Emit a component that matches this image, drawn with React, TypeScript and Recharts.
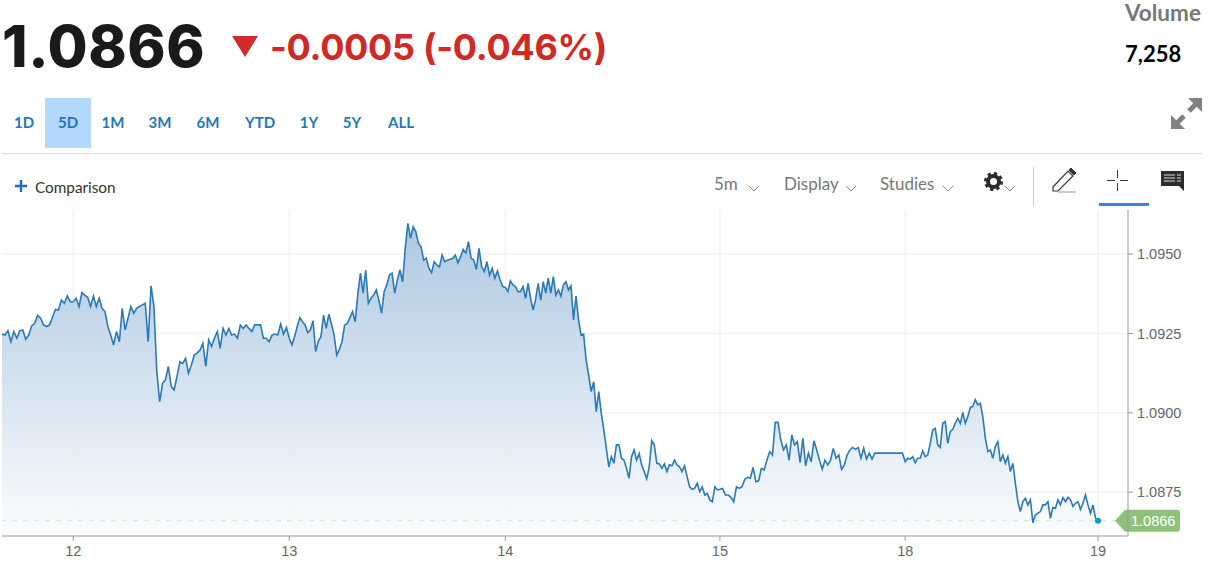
import React from 'react';
import { AreaChart, Area, XAxis, YAxis, CartesianGrid, ReferenceLine, ReferenceDot } from 'recharts';

// 5m bars, x axis counts bars from the left edge of the plot
const dayStarts = [0, 95, 383, 671, 957, 1204];
const lastBar = 1461;
const lastPrice = 1.0866;
const tickBars = [95, 383, 671, 957, 1204, 1461];
const tickDays = ['12', '13', '14', '15', '18', '19'];
const priceTicks = [1.0875, 1.09, 1.0925, 1.095];

const pricesDay11 = [
  1.09248, 1.09245, 1.09259, 1.09224, 1.09256, 1.09235, 1.09259, 1.09261, 1.09232, 1.09245, 1.09274, 1.09282,
  1.09307, 1.09298, 1.09277, 1.09272, 1.09277, 1.09301, 1.09326, 1.09324, 1.09355, 1.09345, 1.09368, 1.0935,
];
const pricesDay12 = [
  1.0935, 1.09361, 1.09335, 1.09379, 1.09371, 1.09364, 1.09335, 1.09368, 1.09335, 1.09361, 1.09329, 1.09319,
  1.09272, 1.09245, 1.09214, 1.09256, 1.09224, 1.09329, 1.09261, 1.09298, 1.09335, 1.09314, 1.09329, 1.09335,
  1.0934, 1.09345, 1.09224, 1.094, 1.09335, 1.0913, 1.09035, 1.09093, 1.09104, 1.09146, 1.09083,
  1.09072, 1.09114, 1.09161, 1.09156, 1.09172, 1.09125, 1.09151, 1.09182, 1.09188, 1.09198, 1.09219, 1.09146,
  1.0923, 1.09209, 1.09235, 1.09256, 1.09203, 1.09266, 1.09245, 1.09266, 1.09245, 1.09248, 1.09235, 1.09277,
  1.09266, 1.09277, 1.09266, 1.09256, 1.09277, 1.09277, 1.09277, 1.09235, 1.09235, 1.09224, 1.09245, 1.09248,
  1.09245, 1.0928, 1.09248, 1.09269,
];
const pricesDay13 = [
  1.09235, 1.09214, 1.0924, 1.09272, 1.093, 1.09287, 1.09277, 1.09253, 1.09261, 1.0929, 1.09193, 1.09225, 1.0924, 1.09308,
  1.09266, 1.09311, 1.0928, 1.09245, 1.09182, 1.092, 1.09224, 1.09277, 1.09282, 1.093, 1.09319, 1.09287, 1.09374, 1.0944, 1.09377,
  1.0945, 1.09345, 1.09361, 1.09371, 1.09387, 1.09355, 1.09314, 1.09382, 1.09403, 1.09434, 1.0944, 1.09377,
  1.09419, 1.0945, 1.09413, 1.09518, 1.09597, 1.0955, 1.09586, 1.09571, 1.09534, 1.09524, 1.09481, 1.09487,
  1.09455, 1.09442, 1.09476, 1.09466, 1.0946, 1.09497, 1.09476, 1.09481, 1.09484, 1.09487, 1.09497, 1.09473,
  1.09492, 1.09515, 1.09503, 1.09539, 1.09487, 1.09481, 1.09452, 1.09518, 1.0946, 1.09445, 1.09476, 1.09434,
  1.09455, 1.09424, 1.09447, 1.09419, 1.09398,
];
const pricesDay14 = [
  1.09395, 1.09382, 1.09416, 1.09403, 1.09398, 1.09382, 1.09382, 1.09398, 1.09361, 1.09408, 1.09361, 1.09324,
  1.09358, 1.09408, 1.09355, 1.09413, 1.09377, 1.09424, 1.09377, 1.09429, 1.09371, 1.09387, 1.09368, 1.09403,
  1.09413, 1.09387, 1.094, 1.09293, 1.09368, 1.09293, 1.09245, 1.09248, 1.09166, 1.09119, 1.09067, 1.09098,
  1.09004, 1.09067, 1.08999, 1.08946, 1.08888, 1.0883, 1.08862, 1.08841, 1.08899, 1.08899, 1.08857, 1.08851,
  1.08825, 1.08794, 1.08862, 1.08883, 1.08851, 1.08872, 1.08836, 1.08815, 1.08792, 1.0883, 1.08912, 1.08899,
  1.08841, 1.08839, 1.08825, 1.08839, 1.08815, 1.08836, 1.08833, 1.08851, 1.08836, 1.0883, 1.08815, 1.08833,
  1.08799, 1.08767, 1.08759, 1.08762, 1.08778, 1.08752, 1.08767, 1.08741, 1.08746, 1.08725, 1.0872, 1.08767,
  1.08757,
];
const pricesDay15 = [
  1.08759, 1.08762, 1.08741, 1.08741, 1.08734, 1.0872, 1.08767, 1.08762, 1.08767, 1.08791, 1.08797, 1.08794,
  1.08828, 1.08783, 1.08786, 1.08825, 1.0882, 1.08851, 1.08878, 1.08867, 1.0897, 1.0897, 1.08915, 1.08883,
  1.08899, 1.08851, 1.0893, 1.08899, 1.08909, 1.08843, 1.0892, 1.08833, 1.08873, 1.08846, 1.08912, 1.08883,
  1.08851, 1.08822, 1.08851, 1.08836, 1.08851, 1.08888, 1.08857, 1.08867, 1.08822, 1.08836, 1.08867, 1.08883,
  1.08891, 1.08885, 1.08891, 1.08857, 1.08888, 1.08854, 1.08873, 1.08854, 1.08873, 1.08873, 1.08873, 1.08873,
  1.08873, 1.08873, 1.08873, 1.08873, 1.08873, 1.08873, 1.08873,
];
const pricesDay18 = [
  1.08846, 1.08857, 1.08854, 1.08862, 1.08843, 1.08857, 1.08857, 1.0888, 1.08862, 1.08867, 1.08904, 1.08946,
  1.08951, 1.08899, 1.08891, 1.08967, 1.08972, 1.08904, 1.08941, 1.08948, 1.08967, 1.08983, 1.08967, 1.09001,
  1.08967, 1.08988, 1.09017, 1.0902, 1.09041, 1.09025, 1.0903, 1.08988, 1.0892, 1.08878, 1.08883, 1.08857,
  1.08894, 1.08909, 1.08846, 1.08867, 1.08841, 1.08862, 1.08815, 1.08841, 1.08778, 1.0872, 1.08689, 1.0872,
  1.08731, 1.0871, 1.08726, 1.08654, 1.08678, 1.08684, 1.08689, 1.0871, 1.0871, 1.0872, 1.08668, 1.08702,
  1.08699, 1.08726, 1.0871, 1.08733, 1.0872, 1.08734, 1.08726, 1.08705, 1.08715, 1.0872, 1.08696, 1.08715,
  1.08741, 1.0871, 1.08684, 1.0871, 1.08668,
];

const sessions = [pricesDay11, pricesDay12, pricesDay13, pricesDay14, pricesDay15, pricesDay18];

const ranges = ['1D', '5D', '1M', '3M', '6M', 'YTD', '1Y', '5Y', 'ALL'];
const rangeCenters = [24, 68, 113, 160, 208, 260, 309, 352, 401];

const chartData = sessions.flatMap((prices, s) => {
  const start = dayStarts[s];
  const end = s + 1 < dayStarts.length ? dayStarts[s + 1] : lastBar;
  return prices.map((price, i) => ({ bar: start + (i * (end - start)) / prices.length, price }));
});
chartData.push({ bar: lastBar, price: lastPrice });

const headFont = 'Lato, "Open Sans", sans-serif';
const bigFont = 'Inter, Lato, sans-serif';
const axisFont = '"Liberation Sans", Arial, sans-serif';

const PriceTag = ({ viewBox }: any) => {
  const y = viewBox.y;
  return (
    <g>
      <path
        d={`M1115 ${y} L1125 ${y - 11} H1177 Q1180 ${y - 11} 1180 ${y - 8} V${y + 8} Q1180 ${y + 11} 1177 ${y + 11} H1125 Z`}
        fill="#8fc17a"
      />
      <text x={1131} y={y + 5} fontSize={14.5} fontFamily={axisFont} fill="#fff">
        {lastPrice.toFixed(4)}
      </text>
    </g>
  );
};

const Caret = ({ x, y }: { x: number; y: number }) => (
  <svg style={{ position: 'absolute', left: x, top: y }} width={12} height={7}>
    <path d="M1 1 L6 6 L11 1" fill="none" stroke="#888" strokeWidth={1} />
  </svg>
);

const Label = ({ x, y, size, color, weight, font, spacing, children }: any) => (
  <div
    style={{
      position: 'absolute',
      left: x,
      top: y,
      fontFamily: font || headFont,
      fontSize: size,
      fontWeight: weight || 400,
      letterSpacing: spacing || 0,
      color,
      lineHeight: 1,
      whiteSpace: 'nowrap',
    }}
  >
    {children}
  </div>
);

export default function App() {
  return (
    <div style={{ position: 'absolute', left: 0, top: 0, width: 1210, height: 574, background: '#fff', overflow: 'hidden' }}>
      <Label x={2} y={17} size={58} color="#1a1a1a" weight={800} font={bigFont} spacing={0.6}>1.0866</Label>
      <svg style={{ position: 'absolute', left: 232, top: 36 }} width={26} height={21}>
        <polygon points="0,0 26,0 13,21" fill="#d02c2c" />
      </svg>
      <Label x={270} y={29} size={36} color="#cf2a27" weight={700} font={bigFont} spacing={-0.3}>-0.0005 (-0.046%)</Label>
      <Label x={1125} y={2} size={22.5} color="#777" weight={700}>Volume</Label>
      <Label x={1125} y={43} size={22} color="#000" weight={700}>7,258</Label>

      <div style={{ position: 'absolute', left: 45, top: 98, width: 46, height: 50, background: '#b3d9ff' }} />
      {ranges.map((r, i) => (
        <div
          key={r}
          style={{
            position: 'absolute',
            left: rangeCenters[i] - 30,
            width: 60,
            top: 115,
            textAlign: 'center',
            fontFamily: headFont,
            fontSize: 15,
            fontWeight: 700,
            lineHeight: 1,
            color: '#1f78b8',
          }}
        >
          {r}
        </div>
      ))}
      <svg style={{ position: 'absolute', left: 1171, top: 98 }} width={32} height={31}>
        <g fill="#808080" stroke="#808080">
          <line x1={5} y1={26} x2={13} y2={18} strokeWidth={5} />
          <line x1={18} y1={13} x2={27} y2={4} strokeWidth={5} />
          <polygon points="0,31 0,17 14,31" strokeWidth={0} />
          <polygon points="31,0 31,14 17,0" strokeWidth={0} />
        </g>
      </svg>
      <div style={{ position: 'absolute', left: 2, top: 153, width: 1200, height: 1, background: '#ddd' }} />

      <svg style={{ position: 'absolute', left: 15, top: 180 }} width={14} height={14}>
        <path d="M6 0 V12 M0 6 H12" stroke="#1e66c8" strokeWidth={2.4} />
      </svg>
      <Label x={35} y={180} size={15.3} color="#333">Comparison</Label>

      <Label x={714} y={175} size={17} color="#777">5m</Label>
      <Caret x={748} y={185} />
      <Label x={784} y={175} size={17} color="#777">Display</Label>
      <Caret x={845} y={185} />
      <Label x={880} y={175} size={17} color="#777">Studies</Label>
      <Caret x={942} y={185} />
      <svg style={{ position: 'absolute', left: 984, top: 172 }} width={19} height={19}>
        <circle cx={9.5} cy={9.5} r={5.5} fill="none" stroke="#2b2b2b" strokeWidth={4} />
        <circle cx={9.5} cy={9.5} r={8} fill="none" stroke="#2b2b2b" strokeWidth={3} strokeDasharray="3.3 3" />
      </svg>
      <Caret x={1004} y={185} />
      <div style={{ position: 'absolute', left: 1033, top: 167, width: 1, height: 39, background: '#ccc' }} />
      <svg style={{ position: 'absolute', left: 1052, top: 168 }} width={26} height={25}>
        <path d="M1 19 L16 3 L21 8 L6 23 H1 Z" fill="#fff" stroke="#333" strokeWidth={1.2} />
        <path d="M17 2 L19 0 L24 5 L22 7 Z" fill="#333" stroke="#333" />
        <line x1={6} y1={24} x2={24} y2={24} stroke="#bbb" strokeWidth={1.5} />
      </svg>
      <svg style={{ position: 'absolute', left: 1107, top: 170 }} width={22} height={22}>
        <path d="M0 10.5 H8 M13 10.5 H21 M10.5 0 V8 M10.5 13 V21" stroke="#333" strokeWidth={1} />
      </svg>
      <div style={{ position: 'absolute', left: 1099, top: 203, width: 50, height: 3, background: '#3b82e6' }} />
      <svg style={{ position: 'absolute', left: 1161, top: 171 }} width={23} height={20}>
        <path d="M0 0 H23 V20 L18 15 H0 Z" fill="#2d2d2d" />
        <path d="M3 4 H14 M3 7 H14 M3 10 H14 M16 4 H20 M16 7 H20 M16 10 H20" stroke="#ddd" strokeWidth={1} />
      </svg>

      <div style={{ position: 'absolute', left: 0, top: 0 }}>
        <AreaChart width={1210} height={574} data={chartData} margin={{ top: 210, left: 2, right: 0, bottom: 0 }}>
          <defs>
            <linearGradient id="priceFill" x1="0" y1="0" x2="0" y2="1">
              <stop offset="0%" stopColor="#a9c5e0" />
              <stop offset="100%" stopColor="#fbfcfe" />
            </linearGradient>
          </defs>
          <CartesianGrid stroke="#f2f2f2" strokeWidth={1.5} syncWithTicks />
          <XAxis
            dataKey="bar"
            type="number"
            domain={[0, 1501]}
            ticks={tickBars}
            tickFormatter={(v: number) => tickDays[tickBars.indexOf(v)]}
            stroke="#999"
            tickSize={5}
            tickMargin={5}
            height={38}
            interval={0}
            tick={{ fontSize: 14.5, fontFamily: axisFont, fill: '#666' }}
          />
          <YAxis
            orientation="right"
            type="number"
            domain={[1.08612, 1.09639]}
            ticks={priceTicks}
            tickFormatter={(v: number) => v.toFixed(4)}
            stroke="#999"
            tickSize={5}
            tickMargin={4}
            width={82}
            interval={0}
            tick={{ fontSize: 14.5, fontFamily: axisFont, fill: '#666', textAnchor: 'start' }}
          />
          <Area
            type="linear"
            dataKey="price"
            stroke="#2a7ab8"
            strokeWidth={1.6}
            fill="url(#priceFill)"
            fillOpacity={0.95}
            dot={false}
            activeDot={false}
            isAnimationActive={false}
          />
          <ReferenceLine y={lastPrice} stroke="#cfe6c4" strokeDasharray="5 6" label={<PriceTag />} />
          <ReferenceDot x={lastBar} y={lastPrice} r={3} fill="#0e9bcb" stroke="none" />
        </AreaChart>
      </div>
    </div>
  );
}
